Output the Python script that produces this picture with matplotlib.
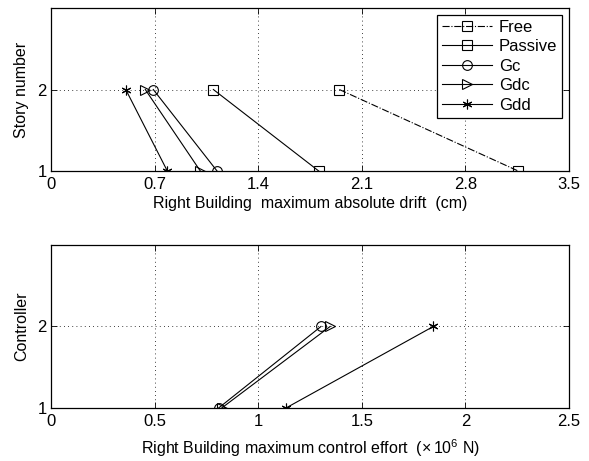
import matplotlib
matplotlib.use("Agg")
import matplotlib.pyplot as plt

plt.rcParams['font.family'] = ['Liberation Sans', 'DejaVu Sans']
plt.rcParams['font.size'] = 11.5
plt.rcParams['mathtext.fontset'] = 'custom'
plt.rcParams['mathtext.rm'] = 'Liberation Sans'

stories = [2, 1]

# maximum absolute drift (cm), story 2 then story 1
drift_free = [1.948, 3.157]
drift_passive = [1.097, 1.809]
drift_gc = [0.691, 1.122]
drift_gdc = [0.637, 1.009]
drift_gdd = [0.505, 0.786]

# maximum control effort (x10^6 N)
effort_gc = [1.303, 0.809]
effort_gdc = [1.347, 0.824]
effort_gdd = [1.845, 1.134]

drift_ticks = [0, 0.7, 1.4, 2.1, 2.8, 3.5]
effort_ticks = [0, 0.5, 1, 1.5, 2, 2.5]

star = (6, 2, 0)
mk = dict(color='k', lw=0.8, mfc='none', mec='k', ms=7, mew=0.8)

fig = plt.figure(figsize=(5.89, 4.61), dpi=100)
ax1 = fig.add_axes([0.0866, 0.629, 0.8795, 0.3536])
ax2 = fig.add_axes([0.0866, 0.115, 0.8795, 0.3536])

ax1.plot(drift_free, stories, '-.', marker='s', label='Free', **mk)
ax1.plot(drift_passive, stories, '-', marker='s', label='Passive', **mk)
ax1.plot(drift_gc, stories, '-', marker='o', label='Gc', **mk)
ax1.plot(drift_gdc, stories, '-', marker='>', label='Gdc', **mk)
ax1.plot(drift_gdd, stories, '-', marker=star, label='Gdd', **mk)
ax1.set_xlim(0, 3.5)
ax1.set_xticks(drift_ticks)
ax1.set_xticklabels(['0', '0.7', '1.4', '2.1', '2.8', '3.5'])
ax1.set_xlabel('Right Building  maximum absolute drift  (cm)', labelpad=3)
ax1.set_ylabel('Story number', labelpad=6)
leg = ax1.legend(loc='upper right', fancybox=False, edgecolor='k', framealpha=1,
                 borderaxespad=0.4, handlelength=3.0, labelspacing=0.27,
                 borderpad=0.3, handletextpad=0.4, fontsize=12)
leg.get_frame().set_linewidth(0.9)

ax2.plot(effort_gc, stories, '-', marker='o', **mk)
ax2.plot(effort_gdc, stories, '-', marker='>', **mk)
ax2.plot(effort_gdd, stories, '-', marker=star, **mk)
ax2.set_xlim(0, 2.5)
ax2.set_xticks(effort_ticks)
ax2.set_xticklabels(['0', '0.5', '1', '1.5', '2', '2.5'])
ax2.set_xlabel(r'Right Building maximum control effort  ($\times\,10^6$ N)', labelpad=6)
ax2.set_ylabel('Controller', labelpad=6)

for ax in (ax1, ax2):
    ax.set_ylim(1, 3)
    ax.set_yticks([1, 2])
    ax.grid(True, linestyle=(0, (1, 4)), color='k', lw=0.6)
    ax.tick_params(direction='in', top=True, right=True, length=4, width=0.6,
                   labelsize=12, pad=4)
    ax.tick_params(axis='y', pad=3)
    for s in ax.spines.values():
        s.set_linewidth(0.9)

fig.savefig('out.png', dpi=100)
